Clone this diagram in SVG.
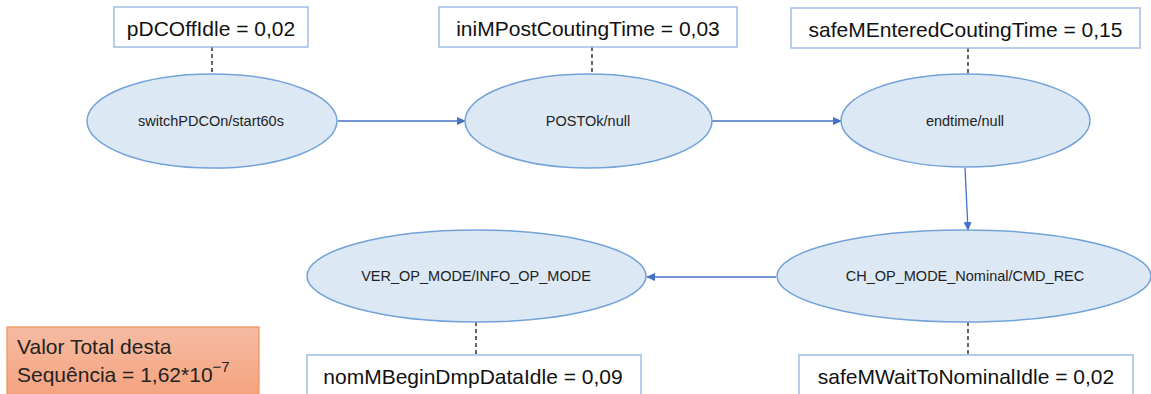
<svg xmlns="http://www.w3.org/2000/svg" width="1151" height="394" viewBox="0 0 1151 394">
<style>
.st{fill:#dde8f5;stroke:#72a2d9;stroke-width:1.5}
.st-t{font-family:"Liberation Sans",Arial,sans-serif;font-size:14.5px;fill:#222;text-anchor:middle;dominant-baseline:central}
.lb{fill:#fff;stroke:#8fb3e0;stroke-width:1.3}
.lb-t{font-family:"Liberation Sans",Arial,sans-serif;font-size:21px;fill:#111;text-anchor:middle}
.dash{stroke:#111;stroke-width:1.3;stroke-dasharray:4 3;fill:none}
.arr{stroke:#4472c4;stroke-width:1.3;fill:none;marker-end:url(#ah)}
.tot-t{font-family:"Liberation Sans",Arial,sans-serif;font-size:21px;fill:#222}
</style>
<defs>
<marker id="ah" markerWidth="9" markerHeight="8" refX="8" refY="4" orient="auto" markerUnits="userSpaceOnUse">
<path d="M0,0 L9,4 L0,8 Z" fill="#4472c4"/>
</marker>
<linearGradient id="og" x1="0" y1="0" x2="0" y2="1">
<stop offset="0" stop-color="#f6bba2"/>
<stop offset="1" stop-color="#f4a27e"/>
</linearGradient>
</defs>
<g id="connectors">
<line class="arr" x1="338" y1="121" x2="465" y2="121"/>
<line class="arr" x1="712" y1="121" x2="841" y2="121"/>
<line class="arr" x1="965" y1="168" x2="968" y2="230"/>
<line class="arr" x1="776" y1="277" x2="647" y2="277"/>
<line class="dash" x1="212" y1="47" x2="212" y2="74"/>
<line class="dash" x1="592" y1="47" x2="592" y2="74"/>
<line class="dash" x1="968" y1="48" x2="968" y2="74"/>
<line class="dash" x1="968" y1="322" x2="968" y2="355"/>
<line class="dash" x1="476" y1="322" x2="476" y2="355"/>
</g>
<g id="s1">
<ellipse class="st" cx="212" cy="121" rx="125" ry="47"/>
<text class="st-t" x="211" y="121">switchPDCOn/start60s</text>
</g>
<g id="s2">
<ellipse class="st" cx="588.5" cy="121" rx="123.5" ry="47"/>
<text class="st-t" x="588" y="121">POSTOk/null</text>
</g>
<g id="s3">
<ellipse class="st" cx="965.5" cy="120.5" rx="124.5" ry="46.5"/>
<text class="st-t" x="965" y="120.5">endtime/null</text>
</g>
<g id="s4">
<ellipse class="st" cx="964" cy="276" rx="187" ry="46"/>
<text class="st-t" x="965" y="276">CH_OP_MODE_Nominal/CMD_REC</text>
</g>
<g id="s5">
<ellipse class="st" cx="476.5" cy="276" rx="169.5" ry="46"/>
<text class="st-t" x="476" y="276">VER_OP_MODE/INFO_OP_MODE</text>
</g>
<g id="l1">
<rect class="lb" x="114" y="7" width="194" height="40"/>
<text class="lb-t" x="211" y="35.5">pDCOffIdle = 0,02</text>
</g>
<g id="l2">
<rect class="lb" x="439" y="7" width="298" height="40"/>
<text class="lb-t" x="588" y="35.5">iniMPostCoutingTime = 0,03</text>
</g>
<g id="l3">
<rect class="lb" x="791" y="8" width="349" height="40"/>
<text class="lb-t" x="965.5" y="36.5">safeMEnteredCoutingTime = 0,15</text>
</g>
<g id="l4">
<rect class="lb" x="799" y="355" width="334" height="45"/>
<text class="lb-t" x="966" y="384">safeMWaitToNominalIdle = 0,02</text>
</g>
<g id="l5">
<rect class="lb" x="307" y="355" width="334" height="45"/>
<text class="lb-t" x="473" y="384">nomMBeginDmpDataIdle = 0,09</text>
</g>
<g id="total">
<rect x="7" y="327" width="252" height="70" fill="url(#og)" stroke="#f0955f" stroke-width="1.3"/>
<text class="tot-t" x="17" y="354">Valor Total desta</text>
<text class="tot-t" x="17" y="382">Sequência = 1,62*10<tspan font-size="15" dy="-10">−7</tspan></text>
</g>
</svg>
